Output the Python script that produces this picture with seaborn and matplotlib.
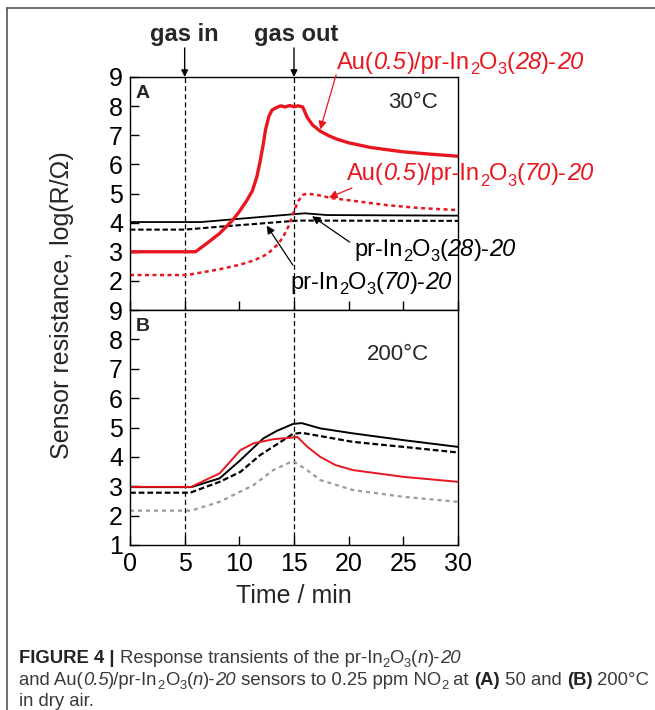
import numpy as np
import pandas as pd
import matplotlib
matplotlib.use("Agg")
import matplotlib.pyplot as plt
from matplotlib.lines import Line2D
from matplotlib.transforms import IdentityTransform
import seaborn as sns

# ---------------- data ----------------
# Panel A (30 C)
tA_au28 = [0, 6.0, 7.0, 8.2, 9.4, 10.0, 10.7, 11.2, 11.6, 11.9, 12.2, 12.4, 12.7, 13.0, 13.4, 13.8, 14.2, 14.6, 15.0, 15.4, 15.8, 16.2, 16.7, 17.4, 18.2, 18.9, 20.0, 22.0, 25.0, 27.5, 30.0]
yA_au28 = [3.0, 3.0, 3.28, 3.63, 4.09, 4.38, 4.77, 5.1, 5.57, 6.1, 6.72, 7.2, 7.65, 7.87, 7.95, 8.01, 7.97, 8.02, 7.98, 8.01, 7.97, 7.62, 7.35, 7.14, 6.98, 6.87, 6.74, 6.58, 6.43, 6.35, 6.28]
tA_au70 = [0, 5.2, 8.2, 10.0, 11.3, 12.2, 12.8, 13.5, 14.0, 14.6, 14.9, 15.4, 15.8, 16.2, 17.4, 18.3, 20.4, 23.5, 26.5, 30]
yA_au70 = [2.2, 2.2, 2.4, 2.55, 2.7, 2.85, 3.0, 3.25, 3.5, 3.95, 4.3, 4.75, 4.95, 5.0, 4.93, 4.85, 4.75, 4.6, 4.5, 4.43]
tA_pr28 = [0, 6.5, 15.3, 16.0, 18.0, 30]
yA_pr28 = [4.02, 4.02, 4.30, 4.32, 4.26, 4.24]
tA_pr70 = [0, 5.0, 8.2, 11.3, 14.3, 15.5, 30]
yA_pr70 = [3.76, 3.76, 3.86, 3.95, 4.04, 4.07, 4.06]

# Panel B (200 C)
tB_pr28 = [0, 5.6, 8.2, 10.1, 12.2, 13.4, 14.9, 15.7, 17.4, 20.4, 25, 30]
yB_pr28 = [2.97, 2.97, 3.27, 3.89, 4.63, 4.88, 5.12, 5.15, 4.97, 4.80, 4.57, 4.34]
tB_pr70 = [0, 5.5, 8.2, 10.1, 11.9, 14.9, 15.7, 20.4, 25, 30]
yB_pr70 = [2.78, 2.78, 3.15, 3.49, 4.06, 4.78, 4.82, 4.51, 4.34, 4.15]
tB_au28 = [0, 5.6, 8.2, 10.1, 11.3, 13.1, 14.9, 15.3, 16.2, 17.4, 18.8, 20.4, 25, 30]
yB_au28 = [2.98, 2.98, 3.44, 4.23, 4.46, 4.60, 4.66, 4.68, 4.35, 4.00, 3.72, 3.55, 3.32, 3.15]
tB_au70 = [0, 5.6, 8.2, 11.3, 13.1, 14.9, 16.2, 17.4, 20.4, 25, 30]
yB_au70 = [2.17, 2.17, 2.47, 3.04, 3.55, 3.86, 3.55, 3.21, 2.87, 2.64, 2.47]

x_ticks = [0, 5, 10, 15, 20, 25, 30]
yA_ticks = [2, 3, 4, 5, 6, 7, 8, 9]
yB_ticks = [1, 2, 3, 4, 5, 6, 7, 8, 9]
gas_times = [5, 15]

# rich-text labels: (text, style) with n=normal, i=italic, s=subscript, b=bold
lab_au28 = [("Au(", "n"), ("0.5", "i"), (")/pr-In", "n"), ("2", "s"), ("O", "n"), ("3", "s"),
            ("(", "n"), ("28", "i"), (")-", "n"), ("20", "i")]
lab_au70 = [("Au(", "n"), ("0.5", "i"), (")/pr-In", "n"), ("2", "s"), ("O", "n"), ("3", "s"),
            ("(", "n"), ("70", "i"), (")-", "n"), ("20", "i")]
lab_pr28 = [("pr-In", "n"), ("2", "s"), ("O", "n"), ("3", "s"), ("(", "n"), ("28", "i"),
            (")-", "n"), ("20", "i")]
lab_pr70 = [("pr-In", "n"), ("2", "s"), ("O", "n"), ("3", "s"), ("(", "n"), ("70", "i"),
            (")-", "n"), ("20", "i")]
cap1 = [("FIGURE 4 | ", "b"), ("Response transients of the pr-In", "n"), ("2", "s"), ("O", "n"),
        ("3", "s"), ("(", "n"), ("n", "i"), (")-", "n"), ("20", "i")]
cap2 = [("and Au(", "n"), ("0.5", "i"), (")/pr-In", "n"), ("2", "s"), ("O", "n"), ("3", "s"),
        ("(", "n"), ("n", "i"), (")-", "n"), ("20", "i"), (" sensors to 0.25 ppm NO", "n"),
        ("2", "s"), (" at ", "n"), ("(A)", "b"), (" 50 and ", "n"), ("(B)", "b"),
        (" 200\u00b0C", "n")]
cap3 = [("in dry air.", "n")]

# ---------------- style ----------------
sns.set_style("ticks")
plt.rcParams["font.family"] = ["Liberation Sans", "DejaVu Sans"]
plt.rcParams["axes.linewidth"] = 1.0

RED = "#e8171f"
GRAY = "#9a9a9a"

fig = plt.figure(figsize=(6.55, 7.10), dpi=100)
W, H = 655, 710
def fx(px): return px / W
def fy(py): return 1 - py / H

axA = fig.add_axes([fx(130), fy(310), fx(458) - fx(130), fy(77) - fy(310)])
axB = fig.add_axes([fx(130), fy(545), fx(458) - fx(130), fy(310) - fy(545)])

def line(ax, t, y, color, lw, ls):
    df = pd.DataFrame({"t": t, "y": y})
    sns.lineplot(data=df, x="t", y="y", ax=ax, color=color, lw=lw,
                 linestyle=ls, sort=False, estimator=None)

DASH_BLACK = (0, (2.6, 1.3))
DOT_RED = (0, (1.6, 1.4))
DOT_GRAY = (0, (1.8, 1.8))

# Panel A
line(axA, tA_pr70, yA_pr70, "black", 1.5, DASH_BLACK)
line(axA, tA_pr28, yA_pr28, "black", 1.3, "-")
line(axA, tA_au70, yA_au70, RED, 1.8, DOT_RED)
line(axA, tA_au28, yA_au28, RED, 2.4, "-")

# Panel B
line(axB, tB_pr28, yB_pr28, "black", 1.4, "-")
line(axB, tB_pr70, yB_pr70, "black", 1.6, DASH_BLACK)
line(axB, tB_au70, yB_au70, GRAY, 1.6, DOT_GRAY)
line(axB, tB_au28, yB_au28, RED, 1.4, "-")

for ax in (axA, axB):
    ax.set_xlim(0, 30)
    ax.set_ylim(1, 9)
    for g in gas_times:
        ax.axvline(g, color="black", lw=0.9, ls=(0, (4, 2.5)), zorder=0)
    for s in ax.spines.values():
        s.set_visible(True)
        s.set_color("black")
        s.set_linewidth(1.0)
    ax.set_xlabel("")
    ax.set_ylabel("")
    ax.set_xticks(x_ticks)
    ax.tick_params(axis="both", direction="in", length=6.5, width=1.0,
                   labelsize=18, pad=5, top=False, right=False, colors="black")

axA.set_yticks(yA_ticks)
axA.tick_params(axis="x", labelbottom=False)
axB.set_yticks(yB_ticks)
axB.set_xticklabels([str(v) for v in x_ticks])
axB.set_xlabel("Time / min", fontsize=18, labelpad=6)

fig.text(fx(62), fy(305), "Sensor resistance, log(R/\u03a9)", rotation=90,
         ha="center", va="center", fontsize=18)

# panel letters / temperatures
axA.text(0.018, 0.965, "A", transform=axA.transAxes, fontsize=14, fontweight="bold",
         ha="left", va="top")
axB.text(0.018, 0.965, "B", transform=axB.transAxes, fontsize=14, fontweight="bold",
         ha="left", va="top")
axA.text(25.9, 8.14, "30\u00b0C", fontsize=16, ha="center", va="center")
axB.text(24.5, 7.47, "200\u00b0C", fontsize=16, ha="center", va="center")

# gas in / gas out
axA.text(5, 10.45, "gas in", fontsize=17, fontweight="bold", ha="center", va="center", clip_on=False)
axA.text(15.2, 10.45, "gas out", fontsize=17, fontweight="bold", ha="center", va="center", clip_on=False)
for g in gas_times:
    axA.annotate("", xy=(g, 9.0), xytext=(g, 10.0), annotation_clip=False,
                 arrowprops=dict(arrowstyle="-|>", color="black", lw=1.0,
                                 mutation_scale=10, shrinkA=0, shrinkB=0))

# ---------- rich text helper (real italic digits, subscripts) ----------
renderer = fig.canvas.get_renderer()

def _props(style, size):
    fs = size * 0.7 if style == "s" else size
    return dict(fontsize=fs,
                fontstyle="italic" if style == "i" else "normal",
                fontweight="bold" if style == "b" else "normal",
                family=["Liberation Sans", "DejaVu Sans"])

def _width(s, props):
    t1 = fig.text(0, 0, "x" + s + "x", **props)
    t2 = fig.text(0, 0, "xx", **props)
    w = t1.get_window_extent(renderer).width - t2.get_window_extent(renderer).width
    t1.remove(); t2.remove()
    return w

def rich(xd, yd, segs, size, color, ha="center", bold_color=None):
    """xd, yd: display coords (pixels from bottom-left); yd is the visual center."""
    spx = size * fig.dpi / 72.0
    base = yd - 0.36 * spx
    widths = [_width(s, _props(st, size)) for s, st in segs]
    total = sum(widths)
    x = xd - total / 2 if ha == "center" else xd
    for (s, st), w in zip(segs, widths):
        yy = base - 0.22 * spx if st == "s" else base
        c = bold_color if (st == "b" and bold_color) else color
        fig.text(x, yy, s, transform=IdentityTransform(), color=c, ha="left",
                 va="baseline", **_props(st, size))
        x += w

def rich_data(ax, x, y, segs, size, color):
    xd, yd = ax.transData.transform((x, y))
    rich(xd, yd, segs, size, color)

def arrow(ax, tip, start, color):
    ax.annotate("", xy=tip, xytext=start, annotation_clip=False,
                arrowprops=dict(arrowstyle="-|>", color=color, lw=0.9,
                                mutation_scale=12, shrinkA=0, shrinkB=0))

rich_data(axA, 30.2, 9.58, lab_au28, 17, RED)
arrow(axA, (17.4, 7.2), (18.85, 9.07), RED)
rich_data(axA, 31.1, 5.74, lab_au70, 17, RED)
arrow(axA, (18.2, 4.86), (20.3, 5.19), RED)
rich_data(axA, 27.9, 3.16, lab_pr28, 17, "black")
arrow(axA, (16.65, 4.22), (20.1, 3.33), "black")
rich_data(axA, 22.05, 2.02, lab_pr70, 17, "black")
arrow(axA, (12.5, 3.9), (14.9, 2.54), "black")

# frame lines of the figure page
fig.add_artist(Line2D([fx(7), 1.0], [fy(8), fy(8)], transform=fig.transFigure,
                      color="#555555", lw=1.2))
fig.add_artist(Line2D([fx(7), fx(7)], [0.0, fy(8)], transform=fig.transFigure,
                      color="#555555", lw=1.2))

# caption
CAP = "#3a3a3a"
rich(19, H - 656, cap1, 13.3, CAP, ha="left", bold_color="#222222")
rich(19, H - 678, cap2, 13.3, CAP, ha="left", bold_color="#222222")
rich(19, H - 699, cap3, 13.3, CAP, ha="left")

fig.savefig("out.png", dpi=100)
